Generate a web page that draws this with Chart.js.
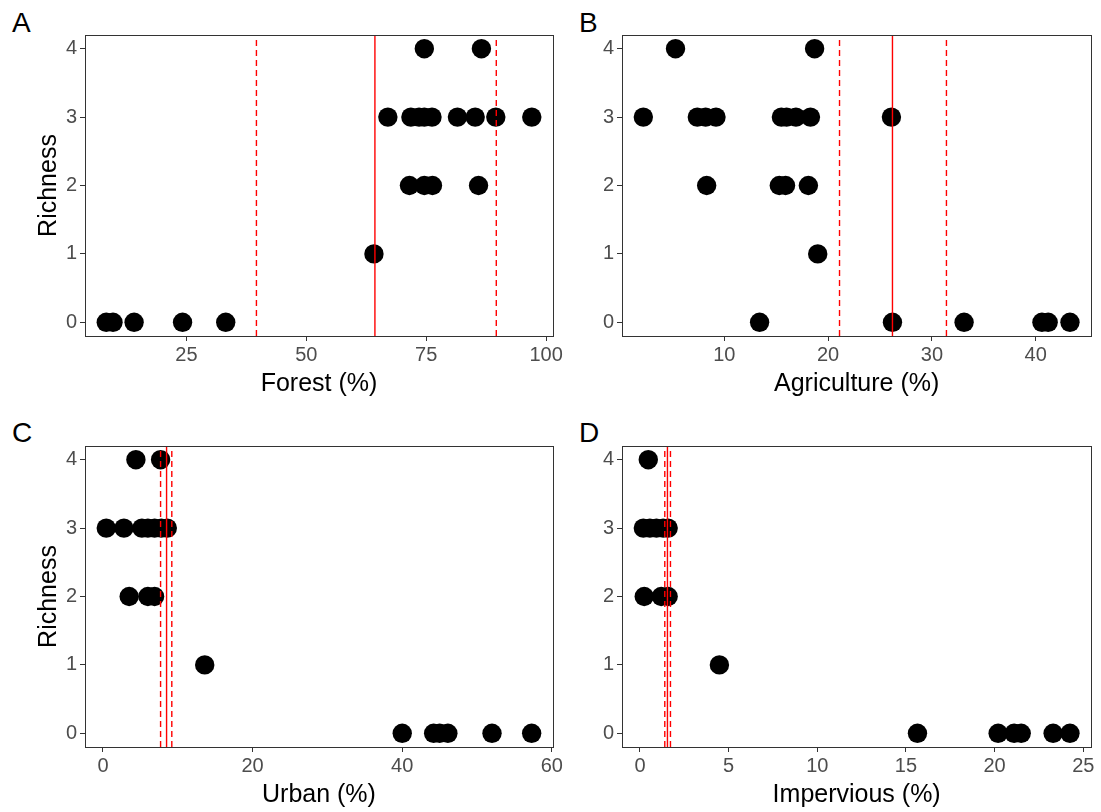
<!DOCTYPE html>
<html>
<head>
<meta charset="utf-8">
<script src="https://cdn.jsdelivr.net/npm/chart.js@4.4.1/dist/chart.umd.min.js"></script>
<style>
  body { margin: 0; background: #fff; width: 1101px; height: 812px; overflow: hidden; position: relative; font-family: "Liberation Sans", Arial, sans-serif; }
  canvas { position: absolute; }
  .tag { position: absolute; font-size: 28px; line-height: 1; color: #000; }
</style>
</head>
<body>
<div class="tag" style="left:12px;top:9px">A</div>
<div class="tag" style="left:579px;top:9px">B</div>
<div class="tag" style="left:12px;top:419px">C</div>
<div class="tag" style="left:579px;top:419px">D</div>
<canvas id="panelA" width="565" height="410" style="left:0;top:0"></canvas>
<canvas id="panelB" width="564" height="410" style="left:537px;top:0"></canvas>
<canvas id="panelC" width="565" height="401" style="left:0;top:411px"></canvas>
<canvas id="panelD" width="564" height="401" style="left:537px;top:411px"></canvas>
<script>
// richness values (shared y ticks)
const richnessTicks = [0, 1, 2, 3, 4];

// A: forest cover
const forestPct      = [8.3, 9.7, 14.1, 24.2, 33.2, 64.1, 71.5, 74.6, 76.3, 85.9, 67.0, 71.8, 73.5, 74.6, 76.2, 81.5, 85.2, 89.5, 97.0, 74.6, 86.5];
const forestRich     = [0, 0, 0, 0, 0, 1, 2, 2, 2, 2, 3, 3, 3, 3, 3, 3, 3, 3, 3, 4, 4];
const forestLines    = [39.6, 64.3, 89.6];   // lower, estimate, upper
const forestTicks    = [25, 50, 75, 100];

// B: agriculture
const agriPct        = [13.4, 26.2, 33.1, 40.6, 41.2, 43.3, 19.0, 8.3, 15.3, 15.9, 18.1, 2.2, 7.4, 8.2, 9.2, 15.5, 16.0, 16.9, 18.3, 26.1, 5.3, 18.7];
const agriRich       = [0, 0, 0, 0, 0, 0, 1, 2, 2, 2, 2, 3, 3, 3, 3, 3, 3, 3, 3, 3, 4, 4];
const agriLines      = [21.1, 26.2, 31.4];
const agriTicks      = [10, 20, 30, 40];

// C: urban
const urbanPct       = [40.0, 44.2, 45.0, 46.1, 52.0, 57.3, 13.6, 3.5, 6.0, 6.9, 0.44, 2.8, 5.2, 6.0, 6.9, 7.8, 8.6, 4.4, 7.7];
const urbanRich      = [0, 0, 0, 0, 0, 0, 1, 2, 2, 2, 3, 3, 3, 3, 3, 3, 3, 4, 4];
const urbanLines     = [7.7, 8.5, 9.2];
const urbanTicks     = [0, 20, 40, 60];

// D: impervious
const imperviousPct  = [15.65, 20.2, 21.1, 21.5, 23.3, 24.25, 4.48, 0.24, 1.2, 1.59, 0.19, 0.56, 0.93, 1.31, 1.59, 0.47];
const imperviousRich = [0, 0, 0, 0, 0, 0, 1, 2, 2, 2, 3, 3, 3, 3, 3, 4];
const imperviousLines = [1.4, 1.55, 1.72];
const imperviousTicks = [0, 5, 10, 15, 20, 25];

const FONT = '"Liberation Sans", Arial, sans-serif';
const Y_MIN = -0.2, Y_MAX = 4.2;

// draws the closed panel box (ggplot panel.border)
const boxPlugin = {
  id: 'box',
  afterDraw(chart) {
    const { ctx, chartArea: a } = chart;
    ctx.save();
    ctx.strokeStyle = '#333';
    ctx.lineWidth = 1;
    ctx.strokeRect(Math.round(a.left) + 0.5, Math.round(a.top) + 0.5, Math.round(a.right - a.left), Math.round(a.bottom - a.top));
    ctx.restore();
  }
};

function makePanel(id, xs, ys, lines, xTicks, xTitle, showYTitle, canvasH, areaBottom) {
  const lo = Math.min(...xs), hi = Math.max(...xs);
  const pad = (hi - lo) * 0.05;
  const points = xs.map((x, i) => ({ x: x, y: ys[i] }));

  const lineSets = lines.map((v, i) => ({
    type: 'line',
    data: [{ x: v, y: Y_MIN }, { x: v, y: Y_MAX }],
    borderColor: '#FF0000',
    borderWidth: 1.4,
    borderDash: i === 1 ? [] : [6, 4],
    pointRadius: 0,
    fill: false,
    order: 0
  }));

  const xTitlePad = canvasH - (areaBottom + 47) - 15;

  return new Chart(document.getElementById(id), {
    type: 'scatter',
    data: {
      datasets: [
        ...lineSets,
        {
          data: points,
          backgroundColor: '#000',
          borderWidth: 0,
          pointRadius: 9.7,
          pointHoverRadius: 9.7,
          order: 1
        }
      ]
    },
    options: {
      responsive: false,
      animation: false,
      events: [],
      layout: { padding: { top: 35, right: 7, left: 0, bottom: 0 } },
      plugins: { legend: { display: false }, tooltip: { enabled: false } },
      scales: {
        x: {
          type: 'linear',
          min: lo - pad,
          max: hi + pad,
          afterBuildTicks: s => { s.ticks = xTicks.map(v => ({ value: v })); },
          afterFit: s => { s.height = canvasH - areaBottom; },
          grid: { drawOnChartArea: false, drawTicks: true, tickLength: 5, tickColor: '#333', tickWidth: 1 },
          border: { display: true, color: '#333', width: 1 },
          ticks: { color: '#4D4D4D', font: { family: FONT, size: 20 }, padding: 2, maxRotation: 0 },
          title: { display: true, text: xTitle, color: '#000', font: { family: FONT, size: 25 }, padding: { top: 0, bottom: xTitlePad - 1 } }
        },
        y: {
          type: 'linear',
          min: Y_MIN,
          max: Y_MAX,
          afterBuildTicks: s => { s.ticks = richnessTicks.map(v => ({ value: v })); },
          afterFit: s => { s.width = 85; },
          grid: { drawOnChartArea: false, drawTicks: true, tickLength: 5, tickColor: '#333', tickWidth: 1 },
          border: { display: true, color: '#333', width: 1 },
          ticks: { color: '#4D4D4D', font: { family: FONT, size: 20 }, padding: 3 },
          title: { display: showYTitle, text: 'Richness', color: '#000', font: { family: FONT, size: 25 }, padding: { top: 34, bottom: 0 } }
        }
      }
    },
    plugins: [boxPlugin]
  });
}

makePanel('panelA', forestPct, forestRich, forestLines, forestTicks, 'Forest (%)', true, 410, 336);
makePanel('panelB', agriPct, agriRich, agriLines, agriTicks, 'Agriculture (%)', false, 410, 336);
makePanel('panelC', urbanPct, urbanRich, urbanLines, urbanTicks, 'Urban (%)', true, 401, 336);
makePanel('panelD', imperviousPct, imperviousRich, imperviousLines, imperviousTicks, 'Impervious (%)', false, 401, 336);
</script>
</body>
</html>
